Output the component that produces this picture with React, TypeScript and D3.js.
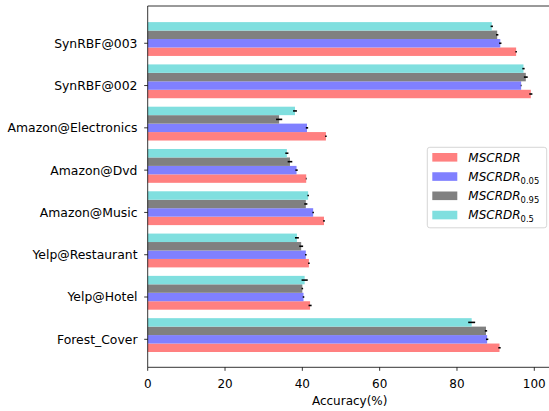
import React from "react";
import * as d3 from "d3";

const categories = [
  "Forest_Cover",
  "Yelp@Hotel",
  "Yelp@Restaurant",
  "Amazon@Music",
  "Amazon@Dvd",
  "Amazon@Electronics",
  "SynRBF@002",
  "SynRBF@003",
];

const seriesNames = ["MSCRDR", "MSCRDR", "MSCRDR", "MSCRDR"];
const seriesSubs = ["", "0.05", "0.95", "0.5"];
const seriesColors = ["#ff8080", "#8080ff", "#808080", "#80dfdf"];

const valMSCRDR = [91.0, 42.0, 41.7, 45.6, 41.0, 46.1, 99.1, 95.3];
const val005 = [87.8, 40.3, 40.9, 42.8, 38.5, 41.2, 96.6, 91.2];
const val095 = [87.5, 40.0, 39.7, 40.9, 36.8, 34.0, 97.8, 90.4];
const val05 = [83.8, 40.6, 38.6, 41.5, 36.0, 38.1, 97.2, 89.0];

const errMSCRDR = [0.3, 0.4, 0.2, 0.2, 0.1, 0.2, 0.4, 0.2];
const err005 = [0.3, 0.2, 0.2, 0.2, 0.3, 0.3, 0.1, 0.3];
const err095 = [0.3, 0.2, 0.5, 0.4, 0.6, 0.8, 0.5, 0.3];
const err05 = [0.9, 0.8, 0.5, 0.2, 0.4, 0.5, 0.3, 0.3];

const xTicks = [0, 20, 40, 60, 80, 100];

const W = 549;
const H = 411;
const left = 147.7;
const top = 6;
const bottom = 367.3;

export default function App() {
  const x = d3.scaleLinear().domain([0, 104.5]).range([left, 551.7]);
  const y = d3.scaleLinear().domain([-0.662, 7.881]).range([bottom, top]);
  const values = [valMSCRDR, val005, val095, val05];
  const errs = [errMSCRDR, err005, err095, err05];
  const barH = 0.2;
  const offsets = [-0.2, 0, 0.2, 0.4];
  const font = "'DejaVu Sans', sans-serif";
  const legX = 427.3;
  const legY = 147.3;
  return (
    <svg
      width={W}
      height={H}
      style={{ position: "absolute", left: 0, top: 0, background: "#fff" }}
      fontFamily={font}
    >
      <rect x={0} y={0} width={W} height={H} fill="#fff" />
      {values.map((vals, s) =>
        vals.map((v, i) => {
          const c = i + offsets[s];
          const y0 = y(c + barH / 2);
          const y1 = y(c - barH / 2);
          return (
            <rect
              key={`b${s}-${i}`}
              x={x(0)}
              y={y0}
              width={x(v) - x(0)}
              height={y1 - y0}
              fill={seriesColors[s]}
            />
          );
        })
      )}
      {values.map((vals, s) =>
        vals.map((v, i) => {
          const c = i + offsets[s];
          const e = errs[s][i];
          return (
            <line
              key={`e${s}-${i}`}
              x1={x(v - e)}
              x2={x(v + e)}
              y1={y(c)}
              y2={y(c)}
              stroke="#000"
              strokeWidth={1.6}
            />
          );
        })
      )}
      {/* spines */}
      <line x1={left} x2={left} y1={top} y2={bottom} stroke="#000" strokeWidth={0.8} />
      <line x1={left} x2={W} y1={top} y2={top} stroke="#000" strokeWidth={0.8} />
      <line x1={left} x2={W} y1={bottom} y2={bottom} stroke="#000" strokeWidth={0.8} />
      {/* x ticks */}
      {xTicks.map((t) => (
        <g key={`xt${t}`}>
          <line x1={x(t)} x2={x(t)} y1={bottom} y2={bottom + 3.5} stroke="#000" strokeWidth={0.8} />
          <text x={x(t)} y={387.5} fontSize={12} textAnchor="middle" fill="#000">
            {t}
          </text>
        </g>
      ))}
      <text x={(x(0) + x(104.5)) / 2} y={404.5} fontSize={12} textAnchor="middle" fill="#000">
        Accuracy(%)
      </text>
      {/* y ticks */}
      {categories.map((c, i) => (
        <g key={`yt${i}`}>
          <line x1={left - 3.5} x2={left} y1={y(i)} y2={y(i)} stroke="#000" strokeWidth={0.8} />
          <text
            x={137.5}
            y={y(i)}
            dy="0.36em"
            fontSize={12.4}
            textAnchor="end"
            fill="#000"
          >
            {c}
          </text>
        </g>
      ))}
      {/* legend */}
      <rect
        x={legX}
        y={legY}
        width={119.4}
        height={80.5}
        rx={2.5}
        fill="#fff"
        fillOpacity={0.8}
        stroke="#ccc"
        strokeWidth={0.8}
      />
      {seriesNames.map((n, s) => {
        const cy = 157.3 + s * 19.25;
        return (
          <g key={`lg${s}`}>
            <rect x={432.3} y={cy - 4.3} width={25} height={8.6} fill={seriesColors[s]} />
            <text x={468.3} y={cy} dy="0.35em" fontSize={12} fontStyle="italic" fill="#000">
              {n}
              {seriesSubs[s] && (
                <tspan fontSize={8.4} fontStyle="normal" dy={3}>
                  {seriesSubs[s]}
                </tspan>
              )}
            </text>
          </g>
        );
      })}
    </svg>
  );
}
